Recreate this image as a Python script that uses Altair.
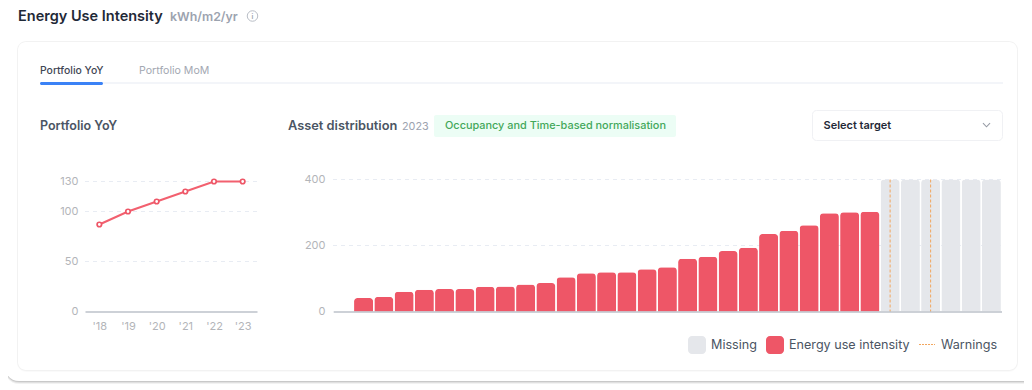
import altair as alt
import pandas as pd

FONT = "Inter"
M = 8  # page margin: reference pixel minus M = view pixel

# ---- data ----
years = ["'18", "'19", "'20", "'21", "'22", "'23"]
yoy_values = [87, 100, 110, 120, 130, 130]
yoy_ticks = [0, 50, 100, 130]
yoy_grid = [50, 100, 130]

energy_values = [41, 44, 60, 66, 68, 68, 75, 76, 82, 86, 104, 116, 119, 119, 128,
                 134, 160, 166, 183, 193, 235, 245, 261, 298, 301, 302]
missing_count = 6
missing_value = 400
warning_positions = [1, 3]  # among the missing assets
dist_ticks = [0, 200, 400]
dist_grid = [200, 400]

RED = "#EE5667"
GREY = "#E5E7EB"
ORANGE = "#F2A65E"
GRID = "#E8ECF3"
AXIS = "#9CA3AF"
LABEL = "#B3B5B9"
H = 376  # view height
BASE = 311.5  # reference pixel row of the zero line


def X(v):
    return alt.value(v - M)


def Y(v):
    return alt.value(v - M)


one = pd.DataFrame({"a": [0]})


def box(x0, x1, y0, y1, fill="#FFFFFF", radius=0, stroke=None, opacity=1.0):
    kw = dict(fill=fill, cornerRadius=radius, opacity=opacity)
    if stroke:
        kw.update(stroke=stroke, strokeWidth=1)
    return alt.Chart(one).mark_rect(**kw).encode(x=X(x0), x2=X(x1), y=Y(y0), y2=Y(y1))


def label(txt, x, y, size, color, weight=400, align="left"):
    return alt.Chart(one).mark_text(
        text=txt, font=FONT, fontSize=size, color=color, fontWeight=weight,
        align=align, baseline="middle").encode(x=X(x), y=Y(y))


# ---- page furniture ----
chrome = [
    box(5, 1040, 4, 384, "#000000", 14, opacity=0.05),
    box(5, 1040, 3, 383, "#000000", 14, opacity=0.07),
    box(5, 1040, 2, 382, "#000000", 14, opacity=0.10),
    box(5, 1040, -20, 381, "#FFFFFF", 14),
    box(17, 1018, 41, 372, "#000000", 9, opacity=0.02),
    box(17, 1018, 41, 371, "#000000", 9, opacity=0.03),
    box(18, 1017, 42, 370, "#FFFFFF", 8),
    label("Energy Use Intensity", 18, 17, 14.5, "#1F2937", 600),
    label("kWh/m2/yr", 170, 17, 12.4, "#9CA3AF", 600),
    alt.Chart(one).mark_point(
        shape="circle", size=110, filled=False, color="#9CA3AF", strokeWidth=1
    ).encode(x=X(252.5), y=Y(16)),
    label("i", 252.5, 16.5, 7, "#9CA3AF", 600, "center"),
    box(40, 1003, 82, 84, "#F3F5F9"),
    box(40, 103, 82, 85, "#3B82F6", 1.5),
    label("Portfolio YoY", 40, 71, 10.4, "#3F4654", 500),
    label("Portfolio MoM", 139, 71, 10.6, "#A3A8B2", 400),
    label("Portfolio YoY", 40, 126, 12.5, "#4B5563", 600),
    label("Asset distribution", 288, 126, 12.8, "#4B5563", 600),
    label("2023", 402, 127, 10.8, "#9CA3AF", 400),
    box(434, 676, 115, 137, "#ECFDF5", 2),
    label("Occupancy and Time-based normalisation", 445, 126, 10.9, "#43A85A", 500),
    box(812.5, 1002.5, 110.5, 140.5, "#FFFFFF", 4, "#F0F1F4"),
    label("Select target", 823.5, 126, 11, "#1F2937", 600),
    alt.Chart(one).mark_point(
        shape="M-1,-0.5L0,0.5L1,-0.5", size=50, filled=False, color="#6B7280", strokeWidth=1.1
    ).encode(x=X(986.5), y=Y(125)),
]

legend_parts = [
    box(688, 706, 336, 354, GREY, 4),
    label("Missing", 711, 345, 12.6, "#4B5563"),
    box(766, 784, 336, 354, RED, 4),
    label("Energy use intensity", 789, 345, 12.6, "#4B5563"),
    alt.Chart(one).mark_rule(
        color=ORANGE, strokeDash=[2, 1], strokeWidth=1.2
    ).encode(x=X(919), x2=X(935), y=Y(344.5)),
    label("Warnings", 941, 345, 12.6, "#4B5563"),
]

bottom_offset = -(H - (BASE - M))

# ---- left panel: portfolio YoY ----
yoy_df = pd.DataFrame({"year": years, "value": yoy_values})
yoy_x = alt.X("year:N", sort=None, scale=alt.Scale(domain=years, range=[85 - M, 257 - M]),
              title=None,
              axis=alt.Axis(orient="bottom", offset=bottom_offset, labels=True, zindex=2,
                            labelAngle=0, labelColor=LABEL, labelFont=FONT, labelFontSize=11,
                            labelPadding=9, ticks=False, grid=False, domain=True,
                            domainColor=AXIS, domainWidth=1.2))
yoy_y = alt.Y("value:Q", scale=alt.Scale(domain=[0, 130], range=[BASE - M, 181.5 - M], nice=False),
              title=None,
              axis=alt.Axis(orient="left", offset=-(78 - M), values=yoy_ticks, ticks=False, zindex=2,
                            domain=False, grid=False, labelColor=LABEL, labelFont=FONT,
                            labelFontSize=11, labelPadding=0))
yoy_grid_layer = alt.Chart(pd.DataFrame({"value": yoy_grid})).mark_rule(
    color=GRID, strokeDash=[4, 4], strokeWidth=1
).encode(y=yoy_y, x=X(85), x2=X(257))
yoy_line = alt.Chart(yoy_df).mark_line(color="#F2606F", strokeWidth=2).encode(x=yoy_x, y=yoy_y)
yoy_pts = alt.Chart(yoy_df).mark_point(
    filled=True, fill="#FFFFFF", stroke="#EE5667", strokeWidth=1.7, size=20, opacity=1
).encode(x=yoy_x, y=yoy_y)
left = alt.layer(yoy_grid_layer, yoy_line, yoy_pts)

# ---- right panel: asset distribution ----
n_assets = len(energy_values) + missing_count
asset_ids = [f"A{i}" for i in range(n_assets + 1)]  # A0 is the empty slot by the axis
bars = pd.DataFrame({
    "asset": asset_ids[1:],
    "value": energy_values + [missing_value] * missing_count,
    "status": ["Energy use intensity"] * len(energy_values) + ["Missing"] * missing_count,
})
dist_x = alt.X("asset:N", sort=None,
               scale=alt.Scale(domain=asset_ids, range=[333.2 - M, 1001.5 - M],
                               paddingInner=0.06, paddingOuter=0.03),
               title=None,
               axis=alt.Axis(orient="bottom", offset=bottom_offset, labels=False, zindex=2,
                             ticks=False, grid=False, domain=True, domainColor=AXIS,
                             domainWidth=1.2))
dist_y = alt.Y("value:Q", scale=alt.Scale(domain=[0, 400], range=[BASE - M, 179.5 - M], nice=False),
               title=None,
               axis=alt.Axis(orient="left", offset=-(325 - M), values=dist_ticks, ticks=False, zindex=2,
                             domain=False, grid=False, labelColor=LABEL, labelFont=FONT,
                             labelFontSize=11, labelPadding=0))
dist_grid_layer = alt.Chart(pd.DataFrame({"value": dist_grid})).mark_rule(
    color=GRID, strokeDash=[4, 4], strokeWidth=1
).encode(y=dist_y, x=X(333), x2=X(1001))
dist_bars = alt.Chart(bars).mark_bar(cornerRadiusEnd=3.5).encode(
    x=dist_x, y=dist_y,
    color=alt.Color("status:N", legend=None,
                    scale=alt.Scale(domain=["Missing", "Energy use intensity"], range=[GREY, RED])),
)
warn_df = pd.DataFrame({
    "asset": [asset_ids[len(energy_values) + i] for i in warning_positions],
    "value": [missing_value] * len(warning_positions),
})
dist_warn = alt.Chart(warn_df).mark_rule(color=ORANGE, strokeDash=[3, 2], strokeWidth=1).encode(
    x=dist_x, y=dist_y, y2=alt.Y2(datum=0))
right = alt.layer(dist_grid_layer, dist_bars, dist_warn)

chart = alt.layer(*chrome, left, right, *legend_parts).resolve_scale(
    x="independent", y="independent", color="independent"
).properties(
    width=1016, height=H, padding=0,
    autosize=alt.AutoSizeParams(type="none", contains="padding"),
).configure_view(stroke=None)

chart.save("out.html", embed_options={"renderer": "svg", "actions": False})
